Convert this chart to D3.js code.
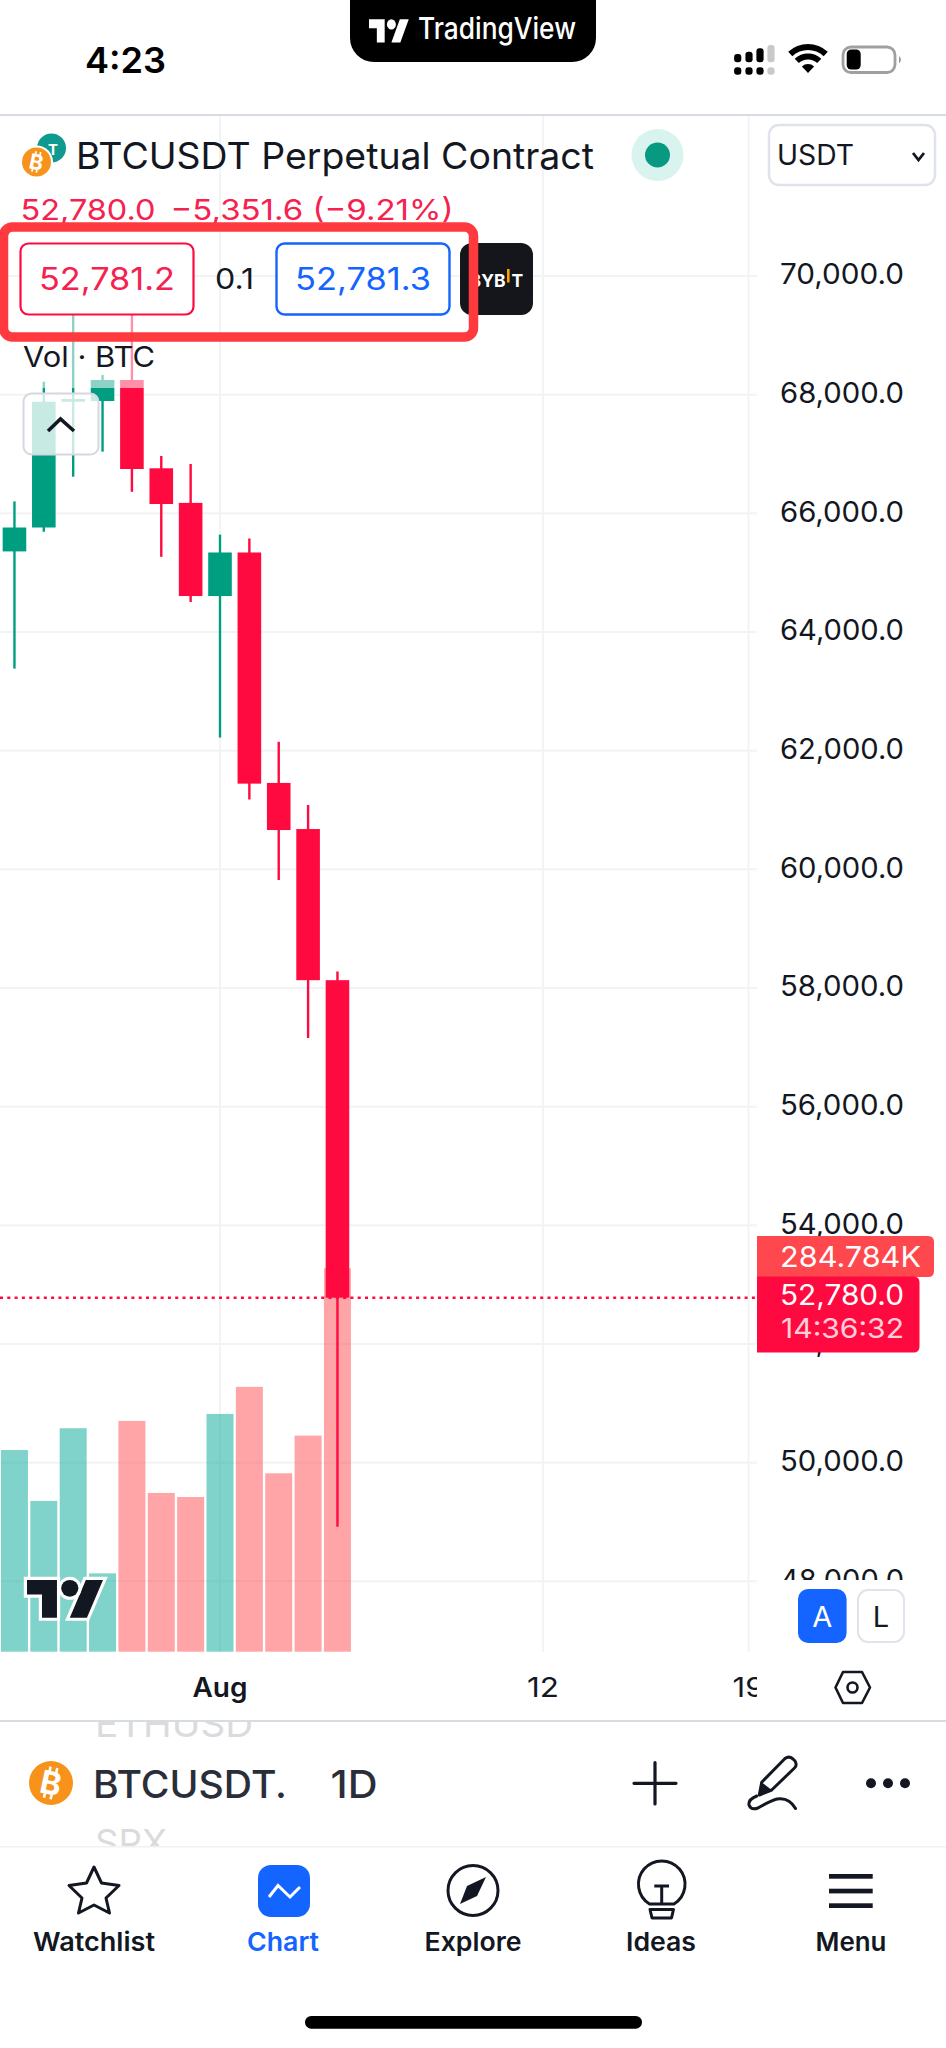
<!DOCTYPE html>
<html><head><meta charset="utf-8">
<script src="https://cdn.jsdelivr.net/npm/d3@7/dist/d3.min.js"></script>
<style>
html,body{margin:0;padding:0;background:#fff;}
svg{display:block;font-family:Inter,"Noto Sans",sans-serif;}
</style></head><body>
<svg id="c" width="946" height="2048" viewBox="0 0 946 2048"></svg>
<script>
// ---- data ----
const dates  = ["2024-07-25","2024-07-26","2024-07-27","2024-07-28","2024-07-29","2024-07-30","2024-07-31","2024-08-01","2024-08-02","2024-08-03","2024-08-04","2024-08-05"];
const opens  = [65358,65761,67881,67893,68247,66759,66176,64606,65340,61456,60679,58131.6];
const highs  = [66201,68218,69400,68331,70000,66966,66831,65641,65574,62149,61084,58279];
const lows   = [63383,65689,66617,67039,66363,65267,64505,62221,61175,59820,57157,48920];
const closes = [65761,67881,67927,68247,66747,66157,64606,65340,61444,60662,58131.6,52780];
const volumes= [149.8,112,166,58.2,171.4,117.9,114.9,176.6,196.7,132.5,160.5,284.784];
const priceTicks = [70000,68000,66000,64000,62000,60000,58000,56000,54000,52000,50000,48000];
const timeTicks  = ["2024-08-01","2024-08-12","2024-08-19"];
const timeLabels = ["Aug","12","19"];
const lastPrice = 52780;

const RED="#FF0A40", GREEN="#009E80", VRED="#FF4A50", VGREEN="#00A896", INK="#131722", BLUE="#1464FF";
const svg=d3.select("#c");
const parse=d3.utcParse("%Y-%m-%d");
const x=d3.scaleUtc().domain([parse("2024-08-01"),parse("2024-08-12")]).range([220,543]);
const y=d3.scaleLinear().domain([48000,70000]).range([1581.3,276]);
const vy=d3.scaleLinear().domain([0,284.784]).range([1651.7,1268.3]);
const rows=dates.map((d,i)=>({t:parse(d),o:opens[i],h:highs[i],l:lows[i],c:closes[i],v:volumes[i]}));
const up=d=>d.c>=d.o;
const txt=(g,s,px,py,size,opt={})=>{
  const t=g.append("text").attr("x",px).attr("y",py).attr("font-size",size)
   .attr("fill",opt.fill||INK).attr("font-weight",opt.w||400).attr("text-anchor",opt.a||"start");
  if(opt.tl)t.attr("textLength",opt.tl).attr("lengthAdjust","spacingAndGlyphs");
  if(opt.clip)t.attr("clip-path",`url(#${opt.clip})`);
  if(opt.op)t.attr("opacity",opt.op);
  t.text(s);return t;};

const defs=svg.append("defs");
defs.append("clipPath").attr("id","plot").append("rect").attr("x",0).attr("y",115).attr("width",757).attr("height",1537);
defs.append("clipPath").attr("id","taxis").append("rect").attr("x",0).attr("y",1655).attr("width",757).attr("height",60);
defs.append("clipPath").attr("id","eth").append("rect").attr("x",0).attr("y",1722).attr("width",946).attr("height",40);
defs.append("clipPath").attr("id","spx").append("rect").attr("x",0).attr("y",1800).attr("width",946).attr("height",46);

// ---- plot ----
const plot=svg.append("g").attr("clip-path","url(#plot)");
plot.selectAll(".vg").data(timeTicks).join("line").attr("x1",d=>x(parse(d))).attr("x2",d=>x(parse(d)))
  .attr("y1",115).attr("y2",1652).attr("stroke","#F2F3F5").attr("stroke-width",2);
plot.selectAll(".hg").data(priceTicks).join("line").attr("x1",0).attr("x2",757).attr("y1",d=>y(d)).attr("y2",d=>y(d))
  .attr("stroke","#F2F3F5").attr("stroke-width",2);
plot.selectAll(".vol").data(rows).join("rect")
  .attr("x",d=>x(d.t)-13.5).attr("width",27).attr("y",d=>vy(d.v)).attr("height",d=>vy(0)-vy(d.v))
  .attr("fill",d=>up(d)?VGREEN:VRED).attr("opacity",.5);
plot.selectAll(".wick").data(rows).join("line")
  .attr("x1",d=>x(d.t)).attr("x2",d=>x(d.t)).attr("y1",d=>y(d.h)).attr("y2",d=>y(d.l))
  .attr("stroke",d=>up(d)?GREEN:RED).attr("stroke-width",2.4);
plot.selectAll(".body").data(rows).join("rect")
  .attr("x",d=>x(d.t)-11.8).attr("width",23.6)
  .attr("y",d=>y(Math.max(d.o,d.c))).attr("height",d=>Math.max(2,Math.abs(y(d.o)-y(d.c))))
  .attr("fill",d=>up(d)?GREEN:RED);
svg.append("line").attr("x1",0).attr("x2",757).attr("y1",y(lastPrice)).attr("y2",y(lastPrice))
  .attr("stroke",RED).attr("stroke-width",2.6).attr("stroke-dasharray","3 4.3");

svg.append("rect").attr("x",0).attr("y",114).attr("width",946).attr("height",2).attr("fill","#D6DCE2");

// ---- price axis ----
const yAxis=svg.append("g").attr("transform","translate(780,0)")
  .call(d3.axisRight(y).tickValues(priceTicks).tickFormat(d3.format(",.1f")).tickSize(0).tickPadding(0));
yAxis.select(".domain").remove();
yAxis.selectAll("text").attr("font-size",28.5).attr("fill",INK).attr("font-family","Inter").attr("dy","0.27em")
  .attr("textLength",124).attr("lengthAdjust","spacingAndGlyphs");
svg.append("rect").attr("x",757).attr("y",1580).attr("width",189).attr("height",72).attr("fill","#fff");

// ---- time axis ----
const timeWidths=[55,32,32];
const tg=svg.append("g").attr("clip-path","url(#taxis)");
tg.selectAll("text").data(timeTicks).join("text")
  .attr("x",d=>x(parse(d))).attr("y",1697).attr("text-anchor","middle").attr("font-size",27)
  .attr("fill",INK).attr("font-weight",(d,i)=>i==0?600:400)
  .attr("textLength",(d,i)=>timeWidths[i]).attr("lengthAdjust","spacingAndGlyphs")
  .text((d,i)=>timeLabels[i]);

// last price labels
const rr=(x0,y0,w,h,r)=>`M${x0},${y0}h${w-r}q${r},0 ${r},${r}v${h-2*r}q0,${r} ${-r},${r}h${-(w-r)}z`;
svg.append("path").attr("d",rr(757,1236,177,41,6)).attr("fill","#FF484D");
svg.append("path").attr("d",rr(757,1276.5,162.5,76,6)).attr("fill",RED);
txt(svg,"284.784K",780,1266.5,29,{fill:"#fff",tl:141});
txt(svg,"52,780.0",780,1305,28.5,{fill:"#fff",tl:124});
txt(svg,"14:36:32",781,1338,27,{fill:"#fff",op:.8,tl:123});

// ---- legend overlay ----
svg.append("rect").attr("x",0).attr("y",315).attr("width",200).attr("height",73).attr("fill","#fff").attr("opacity",.55);

// chevron button
svg.append("rect").attr("x",23.5).attr("y",393.5).attr("width",75).attr("height",61).attr("rx",8)
  .attr("fill","#fff").attr("fill-opacity",.78).attr("stroke","#D5D8E0").attr("stroke-width",2);
svg.append("path").attr("d","M48,431 L60.5,419 L74,431").attr("fill","none").attr("stroke",INK).attr("stroke-width",3.6);

// header
const tvLogo="M14 22H7V11H0V4h14v18zM28 22h-8l7.5-18h8L28 22z";
const logo=(g,tx,ty,sx,sy,fill)=>{
  const l=g.append("g").attr("transform",`translate(${tx},${ty}) scale(${sx},${sy})`);
  l.append("path").attr("d",tvLogo).attr("fill",fill);
  l.append("circle").attr("cx",20).attr("cy",8).attr("r",4).attr("fill",fill);
  return l;};
const btc=(cx,cy,r)=>{
  const k=r/14.5;
  svg.append("circle").attr("cx",cx).attr("cy",cy).attr("r",r).attr("fill","#F7931A");
  const b=svg.append("g").attr("transform",`translate(${cx},${cy}) rotate(12) scale(${k})`);
  b.append("text").attr("x",0).attr("y",7.6).attr("text-anchor","middle").attr("font-size",21).attr("font-weight",700).attr("fill","#fff").text("B");
  b.append("path").attr("d","M-2.5,-10.5V-7M2,-10.5V-7M-2.5,7V10.5M2,7V10.5").attr("stroke","#fff").attr("stroke-width",1.7);
};
svg.append("circle").attr("cx",51.5).attr("cy",148).attr("r",14.5).attr("fill","#0E9A8E");
txt(svg,"T",53,154.5,15,{fill:"#fff",a:"middle",w:700});
svg.append("circle").attr("cx",36.5).attr("cy",162).attr("r",16.5).attr("fill","#fff");
btc(36.5,162,14.5);
txt(svg,"BTCUSDT Perpetual Contract",76,168.5,37,{fill:INK,tl:518});
svg.append("circle").attr("cx",657.5).attr("cy",155).attr("r",26).attr("fill","#D9F3EE");
svg.append("circle").attr("cx",657.5).attr("cy",155).attr("r",12.5).attr("fill","#089981");
svg.append("rect").attr("x",769).attr("y",125).attr("width",166).attr("height",60).attr("rx",10).attr("fill","#fff").attr("stroke","#E0E3EB").attr("stroke-width",2.5);
txt(svg,"USDT",777,165,28,{fill:INK,tl:77});
svg.append("path").attr("d","M913,153 L918.5,160 L924,153").attr("fill","none").attr("stroke",INK).attr("stroke-width",2.8);

txt(svg,"52,780.0",20.5,220,29,{fill:"#F5214F",tl:135});
txt(svg,"−5,351.6 (−9.21%)",170.5,220,29,{fill:"#F5214F",tl:283});

// bid / ask + bybit
svg.append("rect").attr("x",460).attr("y",243).attr("width",73).attr("height",72).attr("rx",12).attr("fill","#14161B");
txt(svg,"BYB",505.5,287,17.5,{fill:"#fff",w:700,a:"end"});
svg.append("rect").attr("x",507).attr("y",269).attr("width",2.6).attr("height",13.5).attr("fill","#F7A600");
txt(svg,"T",511.5,287,17.5,{fill:"#fff",w:700});
svg.append("rect").attr("x",20.5).attr("y",243.5).attr("width",173).attr("height",71).attr("rx",8).attr("fill","#fff").attr("stroke",RED).attr("stroke-width",2.2);
txt(svg,"52,781.2",107,289.5,30.5,{fill:"#F5214F",a:"middle",tl:136});
txt(svg,"0.1",234.5,289,29,{fill:INK,a:"middle",tl:39});
svg.append("rect").attr("x",276.5).attr("y",243.5).attr("width",173).attr("height",71).attr("rx",8).attr("fill","#fff").attr("stroke",BLUE).attr("stroke-width",2.4);
txt(svg,"52,781.3",363,289.5,30.5,{fill:BLUE,a:"middle",tl:136});
svg.append("rect").attr("x",3.5).attr("y",227).attr("width",470).attr("height",110).attr("rx",9).attr("fill","none").attr("stroke","#FF3A3F").attr("stroke-width",9.5);

txt(svg,"Vol · BTC",23,367,28,{fill:INK,tl:132});

// status bar
txt(svg,"4:23",85,72.5,36,{fill:"#000",w:600,tl:81});
svg.append("path").attr("d","M350,0H596V38a24,24 0 0 1 -24,24H374a24,24 0 0 1 -24,-24Z").attr("fill","#000");
logo(svg,369,14,1.12,1.3,"#fff");
txt(svg,"TradingView",418,39,30,{fill:"#fff",w:500,tl:158});
const sig=[[737.7,54,"#000"],[749,51.7,"#000"],[760,48.3,"#000"],[771,45,"#C9C9C9"]];
svg.selectAll(".sigu").data(sig).join("rect").attr("x",d=>d[0]-3.6).attr("width",7.2).attr("y",d=>d[1]).attr("height",d=>62.3-d[1]).attr("rx",3).attr("fill",d=>d[2]);
svg.selectAll(".sigl").data(sig).join("rect").attr("x",d=>d[0]-3.6).attr("width",7.2).attr("y",67.3).attr("height",7.4).attr("rx",3).attr("fill",d=>d[2]);
const wifi=svg.append("g").attr("transform","translate(808,73)");
[[23,29],[13.5,19.5],[0,9]].forEach(b=>wifi.append("path").attr("d",d3.arc()({innerRadius:b[0],outerRadius:b[1],startAngle:-0.75,endAngle:0.75})).attr("fill","#000"));
svg.append("rect").attr("x",843).attr("y",47).attr("width",52).attr("height",25.5).attr("rx",8).attr("fill","#fff").attr("stroke","#A0A0A0").attr("stroke-width",2.8);
svg.append("rect").attr("x",846.7).attr("y",49.5).attr("width",14).attr("height",20).attr("rx",4.5).attr("fill","#000");
svg.append("path").attr("d","M899,56 q4,3.5 0,7.5z").attr("fill","#9A9A9A");

// A / L
svg.append("rect").attr("x",798).attr("y",1589).attr("width",48.6).attr("height",54).attr("rx",10).attr("fill",BLUE);
txt(svg,"A",822.3,1627,29,{fill:"#fff",a:"middle"});
svg.append("rect").attr("x",858).attr("y",1590).attr("width",46).attr("height",52).attr("rx",10).attr("fill","#fff").attr("stroke","#E0E3EB").attr("stroke-width",2);
txt(svg,"L",881,1627,29,{fill:INK,a:"middle"});

// watermark
const wm=logo(svg,27,1571.5,2.14,2.1,INK);
wm.selectAll("path,circle").attr("stroke","#fff").attr("stroke-width",3).attr("paint-order","stroke");

// gear
svg.append("path").attr("d","M843,1672 H862 L870,1687.5 L862,1703 H843 L835.5,1687.5 Z").attr("fill","none").attr("stroke",INK).attr("stroke-width",2.6).attr("stroke-linejoin","round");
svg.append("circle").attr("cx",852.5).attr("cy",1687.5).attr("r",5).attr("fill","none").attr("stroke",INK).attr("stroke-width",2.6);

// toolbar
svg.append("rect").attr("x",0).attr("y",1720).attr("width",946).attr("height",2).attr("fill","#D6DCE2");
txt(svg,"ETHUSD",95,1737,36,{fill:"#DADBDE",tl:158,clip:"eth"});
txt(svg,"SPX",95,1856,37,{fill:"#DADBDE",tl:72,clip:"spx"});
btc(51,1783,22);
txt(svg,"BTCUSDT.",93,1798,38,{fill:"#2A2E39",w:500,tl:194});
txt(svg,"1D",330.5,1798,38,{fill:"#2A2E39",w:500,tl:47});
svg.append("path").attr("d","M634,1783.3 H676 M655,1762.5 V1804").attr("stroke",INK).attr("stroke-width",3.2).attr("fill","none").attr("stroke-linecap","round");
svg.append("path").attr("d","M761.7,1782.3 L785,1758.5 Q789,1755.5 793,1759 L795,1761 Q797.5,1765 794.5,1768 L771.7,1790 L759.3,1795 Z").attr("fill","none").attr("stroke",INK).attr("stroke-width",3).attr("stroke-linejoin","round");
svg.append("path").attr("d","M761.7,1782.3 L771.7,1790 L759.3,1795 Z").attr("fill",INK);
svg.append("path").attr("d","M756.7,1796 Q748,1799.5 749,1805 Q751,1810.5 758,1808 Q770,1801 777,1799 Q789,1797 795.5,1808.5").attr("fill","none").attr("stroke",INK).attr("stroke-width",3).attr("stroke-linecap","round");
[871,888,905].forEach(cx=>svg.append("circle").attr("cx",cx).attr("cy",1783.3).attr("r",5).attr("fill",INK));

// tab bar
svg.append("rect").attr("x",0).attr("y",1846).attr("width",946).attr("height",202).attr("fill","#fff");
svg.append("rect").attr("x",0).attr("y",1846).attr("width",946).attr("height",1.5).attr("fill","#F0F1F3");
svg.append("path").attr("d","M94,1867 L101.5,1883 L119,1885.5 L106,1898 L109.5,1913 L94,1905 L78.5,1913 L82,1898 L69,1885.5 L86.5,1883 Z").attr("fill","none").attr("stroke",INK).attr("stroke-width",3).attr("stroke-linejoin","round");
svg.append("rect").attr("x",258).attr("y",1865).attr("width",52).attr("height",52).attr("rx",13).attr("fill",BLUE);
svg.append("path").attr("d","M269,1897 L278,1885.5 L290,1897 L300,1887").attr("fill","none").attr("stroke","#fff").attr("stroke-width",3);
svg.append("circle").attr("cx",473).attr("cy",1890.5).attr("r",25).attr("fill","none").attr("stroke",INK).attr("stroke-width",3);
svg.append("path").attr("d","M486,1877 L477,1896 L460,1904 L467,1886 Z").attr("fill",INK);
svg.append("path").attr("d","M649.5,1904 A23.3,23.3 0 1 1 674,1904 Z M654.3,1886 H669 M661.7,1886 V1904").attr("fill","none").attr("stroke",INK).attr("stroke-width",3);
svg.append("path").attr("d","M650,1909.5 H673.5 L671.5,1918 H652 Z").attr("fill","none").attr("stroke",INK).attr("stroke-width",3).attr("stroke-linejoin","round");
[1874,1888.7,1903.3].forEach(yy=>svg.append("rect").attr("x",829).attr("y",yy).attr("width",43.7).attr("height",4.7).attr("fill",INK));
const tabs=[["Watchlist",94,INK,122],["Chart",283,BLUE,72],["Explore",473,INK,97],["Ideas",661,INK,70],["Menu",851,INK,71]];
tabs.forEach(t=>txt(svg,t[0],t[1],1951,26,{fill:t[2],a:"middle",w:600,tl:t[3]}));
svg.append("rect").attr("x",305).attr("y",2016).attr("width",337).attr("height",12.7).attr("rx",6.3).attr("fill","#000");
</script>
</body></html>
